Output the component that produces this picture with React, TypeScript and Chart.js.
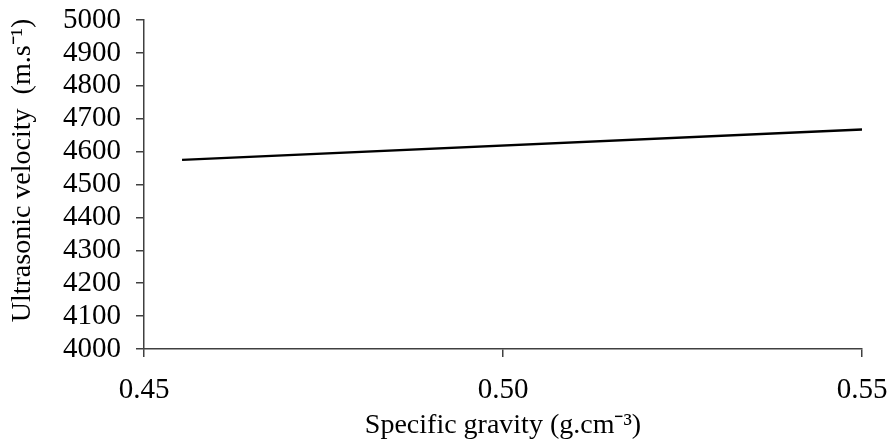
import React, { useEffect, useRef } from "react";
import { Chart, registerables } from "chart.js";

Chart.register(...registerables);

const xValues = [0.4553, 0.55];
const yValues = [4575, 4667];
const xTicks = [0.45, 0.5, 0.55];
const yTicks = [4000, 4100, 4200, 4300, 4400, 4500, 4600, 4700, 4800, 4900, 5000];
const xTitle = "Specific gravity (g.cm\u207B\u00B3)";
const yTitle = "\u00A0\u00A0\u00A0\u00A0Ultrasonic velocity  (m.s\u207B\u00B9)";

export default function App() {
  const ref = useRef<HTMLCanvasElement | null>(null);

  useEffect(() => {
    document.body.style.margin = "0";
    const canvas = ref.current;
    if (!canvas) return;
    const font = { family: "'Liberation Serif', 'Times New Roman', serif", size: 29 };
    const titleFont = { family: "'Liberation Serif', 'Times New Roman', serif", size: 28 };
    const axisColor = "#404040";
    const chart = new Chart(canvas, {
      type: "scatter",
      data: {
        datasets: [
          {
            data: xValues.map((x, i) => ({ x, y: yValues[i] })),
            showLine: true,
            borderColor: "#000000",
            borderWidth: 2.4,
            pointRadius: 0,
            fill: false,
          },
        ],
      },
      options: {
        animation: false,
        responsive: false,
        maintainAspectRatio: false,
        layout: { padding: { top: 20, right: 28, left: 0, bottom: 0 } },
        plugins: { legend: { display: false }, tooltip: { enabled: false } },
        scales: {
          x: {
            type: "linear",
            min: xTicks[0],
            max: xTicks[xTicks.length - 1],
            afterBuildTicks: (s: any) => {
              s.ticks = xTicks.map((v) => ({ value: v }));
            },
            afterFit: (s: any) => {
              s.height = 97;
              s.paddingLeft = 0;
              s.paddingRight = 0;
            },
            ticks: {
              color: "#000",
              font,
              padding: 16,
              maxRotation: 0,
              autoSkip: false,
              callback: (v: any) => Number(v).toFixed(2),
            },
            grid: {
              display: true,
              drawOnChartArea: false,
              drawTicks: true,
              tickLength: 8,
              color: axisColor,
              lineWidth: 1.5,
            },
            border: { display: true, color: axisColor, width: 1.5 },
            title: {
              display: true,
              text: xTitle,
              color: "#000",
              font: titleFont,
              padding: { top: 0, bottom: 4 },
            },
          },
          y: {
            type: "linear",
            min: yTicks[0],
            max: yTicks[yTicks.length - 1],
            afterBuildTicks: (s: any) => {
              s.ticks = yTicks.map((v) => ({ value: v }));
            },
            afterFit: (s: any) => {
              s.width = 144;
              s.paddingTop = 0;
              s.paddingBottom = 0;
            },
            ticks: {
              color: "#000",
              font,
              padding: 15,
              autoSkip: false,
              callback: (v: any) => String(v),
            },
            grid: {
              display: true,
              drawOnChartArea: false,
              drawTicks: true,
              tickLength: 8,
              color: axisColor,
              lineWidth: 1.5,
            },
            border: { display: true, color: axisColor, width: 1.5 },
            title: {
              display: true,
              text: yTitle,
              color: "#000",
              font: titleFont,
              padding: { top: 6, bottom: 0 },
            },
          },
        },
      },
    });
    return () => chart.destroy();
  }, []);

  return (
    <div style={{ position: "fixed", left: 0, top: 0, width: 890, height: 446, background: "#fff" }}>
      <canvas ref={ref} width={890} height={446} style={{ width: 890, height: 446, display: "block" }} />
    </div>
  );
}
